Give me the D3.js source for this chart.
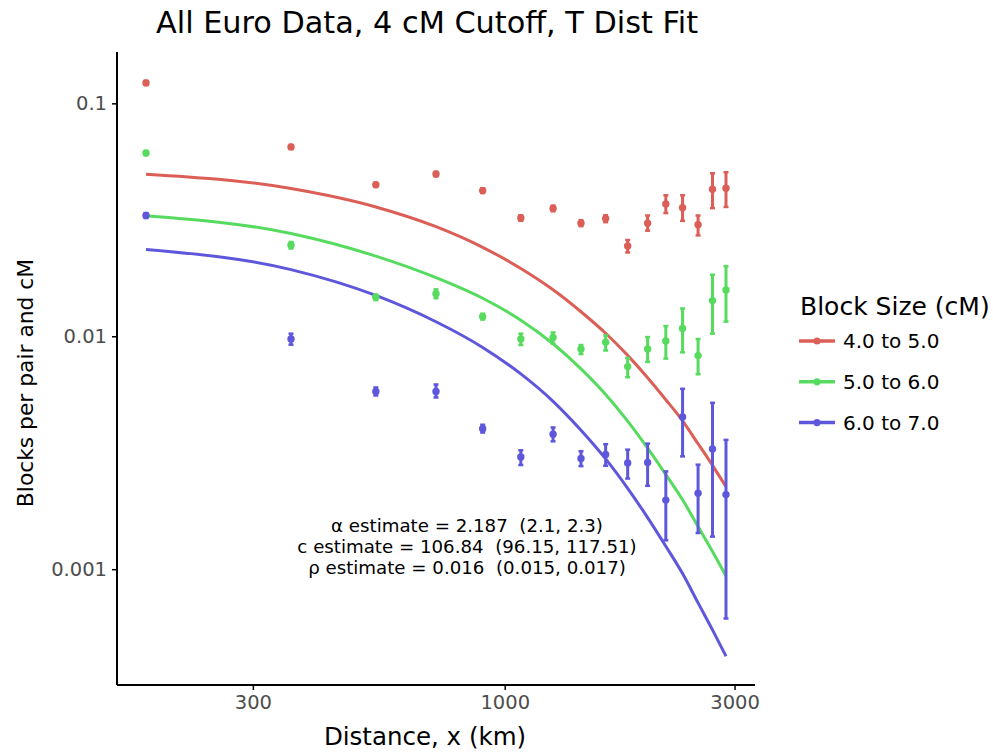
<!DOCTYPE html>
<html>
<head>
<meta charset="utf-8">
<script src="https://cdn.jsdelivr.net/npm/d3@7"></script>
<style>
  html, body { margin: 0; padding: 0; background: #fff; }
  text { font-family: "DejaVu Sans", sans-serif; }
</style>
</head>
<body>
<svg id="chart" width="993" height="752"></svg>
<script>
// Distance bins (km)
const distances = [180, 360, 540, 720, 900, 1080, 1260, 1440, 1620, 1800, 1980, 2160, 2340, 2520, 2700, 2880];

const seriesNames = ["4.0 to 5.0", "5.0 to 6.0", "6.0 to 7.0"];
const seriesColors = ["#db5f57", "#57db5f", "#5f57db"];

// Observed block densities with lower / upper error bounds
const blocks4to5 = [0.1224, 0.0650, 0.0447, 0.0497, 0.0422, 0.0322, 0.0354, 0.0306, 0.0320, 0.0244, 0.0306, 0.0370, 0.0356, 0.0301, 0.0428, 0.0432];
const low4to5    = [0.1200, 0.0637, 0.0438, 0.0486, 0.0412, 0.0313, 0.0344, 0.0297, 0.0309, 0.0229, 0.0284, 0.0338, 0.0313, 0.0271, 0.0355, 0.0359];
const high4to5   = [0.1250, 0.0663, 0.0456, 0.0508, 0.0432, 0.0331, 0.0364, 0.0315, 0.0331, 0.0259, 0.0330, 0.0403, 0.0403, 0.0330, 0.0501, 0.0506];

const blocks5to6 = [0.0612, 0.0246, 0.01471, 0.01524, 0.01212, 0.00973, 0.00989, 0.00882, 0.00942, 0.00741, 0.00882, 0.00954, 0.0108, 0.00826, 0.01423, 0.0158];
const low5to6    = [0.0600, 0.0238, 0.0143, 0.01456, 0.0118, 0.00917, 0.00929, 0.00839, 0.00869, 0.00667, 0.00776, 0.00802, 0.00853, 0.00687, 0.01026, 0.01156];
const high5to6   = [0.0624, 0.0254, 0.0151, 0.0159, 0.0125, 0.01026, 0.01038, 0.00917, 0.01008, 0.00807, 0.00992, 0.01106, 0.01316, 0.00973, 0.01837, 0.0200];

const blocks6to7 = [0.0330, 0.00973, 0.00579, 0.00579, 0.00401, 0.00303, 0.00380, 0.00299, 0.00311, 0.00286, 0.00287, 0.00198, 0.00450, 0.00212, 0.00328, 0.00209];
const low6to7    = [0.0322, 0.00920, 0.00557, 0.00546, 0.00386, 0.00280, 0.00354, 0.00277, 0.00278, 0.00245, 0.00228, 0.00133, 0.00305, 0.00143, 0.00138, 0.000614];
const high6to7   = [0.0338, 0.01026, 0.00603, 0.00621, 0.00417, 0.00324, 0.00406, 0.00321, 0.00344, 0.00326, 0.00346, 0.00263, 0.00595, 0.00281, 0.00518, 0.00359];

// Fitted T-distribution model evaluated at each bin
const fit4to5 = [0.04963, 0.04307, 0.03590, 0.02955, 0.02410, 0.01954, 0.01583, 0.01274, 0.01030, 0.008279, 0.006641, 0.005342, 0.004333, 0.003455, 0.002791, 0.002259];
const fit5to6 = [0.03295, 0.02761, 0.02208, 0.01785, 0.01456, 0.01173, 0.00929, 0.007249, 0.005629, 0.004324, 0.003309, 0.002549, 0.001987, 0.001525, 0.001191, 0.000935];
const fit6to7 = [0.02359, 0.01933, 0.01497, 0.01154, 0.008955, 0.006895, 0.005258, 0.003950, 0.002975, 0.002225, 0.001666, 0.001255, 0.000958, 0.000717, 0.000549, 0.000423];

const xTicks = [300, 1000, 3000];
const yTicks = [0.1, 0.01, 0.001];
const yTickLabels = ["0.1", "0.01", "0.001"];

const titleText = "All Euro Data, 4 cM Cutoff, T Dist Fit";
const xAxisTitle = "Distance, x (km)";
const yAxisTitle = "Blocks per pair and cM";
const legendTitle = "Block Size (cM)";
const fitLabels = [
  "\u03b1 estimate = 2.187  (2.1, 2.3)",
  "c estimate = 106.84  (96.15, 117.51)",
  "\u03c1 estimate = 0.016  (0.015, 0.017)"
];

const series = [
  { name: seriesNames[0], color: seriesColors[0], y: blocks4to5, lo: low4to5, hi: high4to5, fit: fit4to5 },
  { name: seriesNames[1], color: seriesColors[1], y: blocks5to6, lo: low5to6, hi: high5to6, fit: fit5to6 },
  { name: seriesNames[2], color: seriesColors[2], y: blocks6to7, lo: low6to7, hi: high6to7, fit: fit6to7 }
];

const panel = { left: 117, right: 755, top: 52, bottom: 685 };
const svg = d3.select("#chart");

// Log-scale domains with a 5% expansion on each side (in log space)
function expandedLogDomain(values) {
  const lo = Math.log10(d3.min(values)), hi = Math.log10(d3.max(values));
  const pad = (hi - lo) * 0.05;
  return [Math.pow(10, lo - pad), Math.pow(10, hi + pad)];
}

const allY = series.flatMap(s => [...s.lo, ...s.hi, ...s.fit, ...s.y]);
const x = d3.scaleLog().domain(expandedLogDomain(distances)).range([panel.left, panel.right]);
const y = d3.scaleLog().domain(expandedLogDomain(allY)).range([panel.bottom, panel.top]);

// Fitted curves
const line = d3.line()
  .x(d => x(d[0]))
  .y(d => y(d[1]))
  .curve(d3.curveMonotoneX);

const gLines = svg.append("g");
series.forEach(s => {
  gLines.append("path")
    .datum(distances.map((d, i) => [d, s.fit[i]]))
    .attr("d", line)
    .attr("fill", "none")
    .attr("stroke", s.color)
    .attr("stroke-width", 3);
});

// Error bars and points
series.forEach(s => {
  const g = svg.append("g");
  const rows = distances.map((d, i) => ({ d, v: s.y[i], lo: s.lo[i], hi: s.hi[i] }));
  g.selectAll("line.bar").data(rows).join("line")
    .attr("class", "bar")
    .attr("x1", r => x(r.d)).attr("x2", r => x(r.d))
    .attr("y1", r => y(r.lo)).attr("y2", r => y(r.hi))
    .attr("stroke", s.color).attr("stroke-width", 3);
  ["lo", "hi"].forEach(k => {
    g.selectAll("line.cap-" + k).data(rows).join("line")
      .attr("class", "cap-" + k)
      .attr("x1", r => x(r.d) - 2.5).attr("x2", r => x(r.d) + 2.5)
      .attr("y1", r => y(r[k])).attr("y2", r => y(r[k]))
      .attr("stroke", s.color).attr("stroke-width", 2.5);
  });
  g.selectAll("circle").data(rows).join("circle")
    .attr("cx", r => x(r.d)).attr("cy", r => y(r.v))
    .attr("r", 3.7)
    .attr("fill", s.color);
});

// Axes
const xAxis = d3.axisBottom(x).tickValues(xTicks).tickFormat(d3.format("d")).tickSize(5).tickPadding(5);
const yAxis = d3.axisLeft(y).tickValues(yTicks).tickFormat((d, i) => yTickLabels[i]).tickSize(5).tickPadding(5);

const gx = svg.append("g").attr("transform", `translate(0,${panel.bottom})`).call(xAxis);
const gy = svg.append("g").attr("transform", `translate(${panel.left},0)`).call(yAxis);

[gx, gy].forEach(g => {
  g.select(".domain").remove();
  g.selectAll(".tick line").attr("stroke", "#000").attr("stroke-width", 1.5);
  g.selectAll(".tick text").attr("fill", "#4d4d4d").style("font-size", "19.5px").style("font-family", "DejaVu Sans");
});

svg.append("line")
  .attr("x1", panel.left).attr("x2", panel.right)
  .attr("y1", panel.bottom).attr("y2", panel.bottom)
  .attr("stroke", "#000").attr("stroke-width", 2);
svg.append("line")
  .attr("x1", panel.left).attr("x2", panel.left)
  .attr("y1", panel.top).attr("y2", panel.bottom)
  .attr("stroke", "#000").attr("stroke-width", 2);

// Titles
svg.append("text")
  .attr("x", 427).attr("y", 33)
  .attr("text-anchor", "middle")
  .style("font-size", "30.3px")
  .text(titleText);

svg.append("text")
  .attr("x", 425).attr("y", 745)
  .attr("text-anchor", "middle")
  .style("font-size", "24.5px")
  .text(xAxisTitle);

svg.append("text")
  .attr("transform", "translate(33,383) rotate(-90)")
  .attr("text-anchor", "middle")
  .style("font-size", "21.8px")
  .text(yAxisTitle);

// Fit parameter annotation
const ann = svg.append("text")
  .attr("text-anchor", "middle")
  .style("font-size", "18.2px")
  .style("white-space", "pre");
fitLabels.forEach((t, i) => {
  ann.append("tspan")
    .attr("x", 467)
    .attr("y", 532 + i * 21)
    .text(t);
});

// Legend
const legend = svg.append("g");
legend.append("text")
  .attr("x", 800).attr("y", 315)
  .style("font-size", "25px")
  .text(legendTitle);
series.forEach((s, i) => {
  const ly = 341 + i * 40.8;
  legend.append("line")
    .attr("x1", 799).attr("x2", 835)
    .attr("y1", ly).attr("y2", ly)
    .attr("stroke", s.color).attr("stroke-width", 3.5);
  legend.append("circle")
    .attr("cx", 817).attr("cy", ly).attr("r", 3.6)
    .attr("fill", s.color);
  legend.append("text")
    .attr("x", 843).attr("y", ly + 7)
    .style("font-size", "20px")
    .text(s.name);
});
</script>
</body>
</html>
